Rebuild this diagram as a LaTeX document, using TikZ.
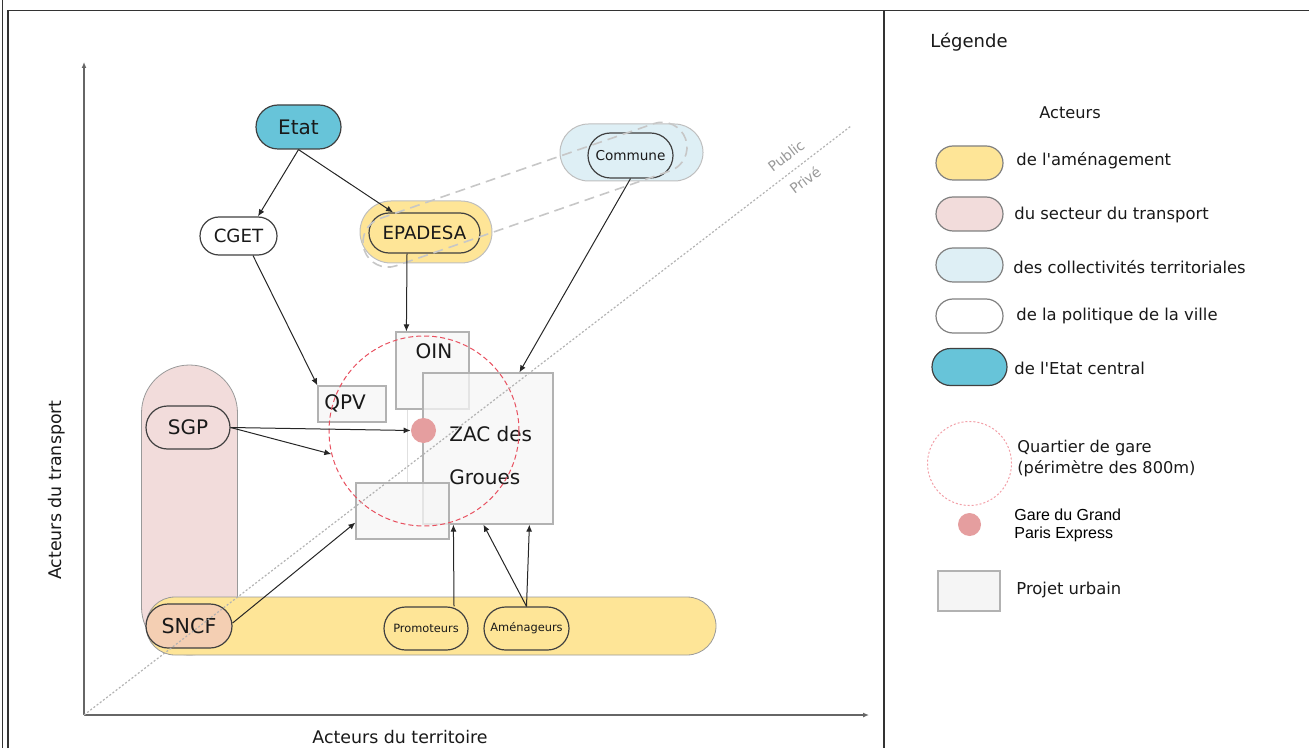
\documentclass[tikz,border=0pt]{standalone}
\usepackage{fontspec}
\setmainfont{DejaVu Sans}
\newfontfamily\arialfont{Liberation Sans}
\usetikzlibrary{shapes.misc,arrows.meta,calc}
\definecolor{etatblue}{HTML}{67C4D9}
\definecolor{amyellow}{HTML}{FEE597}
\definecolor{trpink}{HTML}{F2DCDB}
\definecolor{colblue}{HTML}{DEEFF5}
\definecolor{sncfpeach}{HTML}{F4CFB3}
\definecolor{projgray}{HTML}{F5F5F5}
\definecolor{garered}{HTML}{E59E9F}
\definecolor{circred}{HTML}{E8505F}
\newcommand\straightq{\XeTeXglyph\XeTeXcharglyph"27\relax}
\begin{document}
\begin{tikzpicture}[x=0.5pt, y=-0.5pt,
                pill/.style={rounded rectangle, draw=black!75, line width=0.6pt, inner sep=0pt, text=black!90},
                halo/.style={rounded rectangle, draw=black!25, line width=0.5pt, inner sep=0pt},
                proj/.style={rectangle, draw=black!30, line width=0.6pt, fill=projgray, fill opacity=0.75, inner sep=0pt},
                arr/.style={-{Latex[length=3.5pt,width=3pt]}, draw=black!85, line width=0.5pt},
                lab/.style={anchor=west, inner sep=0pt, text=black!90, font=\fontsize{8.2}{10}\selectfont},
                f10/.style={inner sep=0pt, text=black!90, font=\fontsize{10}{12}\selectfont}]
                \useasboundingbox (0,0) rectangle (1309,748);

                \draw[black!80, line width=0.8pt] (2.5,0) -- (2.5,748);
                \draw[black!80, line width=0.8pt] (8,748) -- (8,10.5) -- (1309,10.5);
                \draw[black!80, line width=0.8pt] (884,10.5) -- (884,748);

                \coordinate (O) at (84,715);
                \draw[-{Latex[length=3pt,width=2.5pt]}, black!60, line width=0.6pt] (O) -- (84,62);
                \draw[-{Latex[length=3pt,width=2.5pt]}, black!60, line width=0.6pt] (O) -- (869,715);
                \node[rotate=90, text=black!90, font=\fontsize{8.7}{10}\selectfont] (YLAB) at (57,490) {Acteurs du transport};
                \node[text=black!90, font=\fontsize{8.7}{10}\selectfont] (XLAB) at (400,737) {Acteurs du territoire};

                \draw[draw=black!40, fill=trpink, rounded corners=24pt] (141.5,365) rectangle (237.5,655);
                \draw[draw=black!40, fill=amyellow, rounded corners=14.5pt] (146,597) rectangle (716,655);

                \node[halo, fill=amyellow, minimum width=66pt, minimum height=31pt] (EPAH) at (426,232) {};
                \node[halo, fill=colblue, minimum width=71.5pt, minimum height=28.5pt] (COMH) at (631.5,152.5) {};

                \node[proj, minimum width=36.5pt, minimum height=38.5pt] (OIN) at (432.5,370.5) {};
                \node[proj, minimum width=65pt, minimum height=75.5pt] (ZAC) at (488,448.5) {};
                \node[proj, minimum width=34pt, minimum height=18pt] (QPV) at (352,404) {};
                \node[proj, minimum width=46.5pt, minimum height=28pt] (PRJ) at (402.5,511) {};
                \draw[black!12, line width=0.5pt] ($(OIN.south west)+(12,0)$) -- ($(PRJ.north west)+(52,0)$);
                \node[f10] (OINT) at (434,351) {OIN};
                \node[f10] (QPVT) at (345,403) {QPV};
                \node[f10, anchor=west, align=left, font=\fontsize{10}{21.5}\selectfont] (ZACT) at (449,455.5) {ZAC des\\Groues};

                \node[circle, draw=circred, dash pattern=on 2.5pt off 1.5pt, line width=0.5pt, minimum size=95pt, inner sep=0pt] (QDG) at (424,431) {};
                \node[circle, fill=garered, minimum size=12.5pt, inner sep=0pt] (GARE) at (423.5,430.5) {};

                \node[pill, fill=etatblue, minimum width=42.5pt, minimum height=22pt, font=\fontsize{10}{12}\selectfont] (ETAT) at (298.5,127) {Etat};
                \node[pill, fill=white, minimum width=38.5pt, minimum height=19pt, font=\fontsize{9.1}{11}\selectfont] (CGET) at (238.5,236) {CGET};
                \node[pill, fill=amyellow, minimum width=55.5pt, minimum height=20pt, font=\fontsize{9.1}{11}\selectfont] (EPA) at (424.5,233) {EPADESA};
                \node[pill, fill=colblue, minimum width=42.5pt, minimum height=22.5pt, font=\fontsize{6.8}{8}\selectfont] (COM) at (630.5,155.5) {Commune};
                \node[pill, fill=trpink, minimum width=42pt, minimum height=21.5pt, font=\fontsize{10}{12}\selectfont] (SGP) at (188,427.5) {SGP};
                \node[pill, fill=sncfpeach, minimum width=43pt, minimum height=22pt, font=\fontsize{10.3}{12}\selectfont] (SNCF) at (189,626) {SNCF};
                \node[pill, fill=amyellow, minimum width=42pt, minimum height=21.5pt, font=\fontsize{5.7}{7}\selectfont] (PROM) at (426,628.5) {Promoteurs};
                \node[pill, fill=amyellow, minimum width=42.5pt, minimum height=21.5pt, font=\fontsize{5.7}{7}\selectfont] (AMEN) at (526.5,628.5) {Aménageurs};

                \node[rounded rectangle, draw=black!22, dash pattern=on 5pt off 3pt, line width=0.8pt,
                    minimum width=170pt, minimum height=25pt, inner sep=0pt, rotate=19.1] (LINK) at (525,194.7) {};

                \draw[black!30, dash pattern=on 1pt off 1pt, line width=0.6pt] (O) -- (851,126);
                \node[rotate=37.5, text=black!40, font=\fontsize{7}{8}\selectfont] (PUB) at (786,156) {Public};
                \node[rotate=37.5, text=black!40, font=\fontsize{7}{8}\selectfont] (PRIV) at (805,180) {Privé};

                \draw[arr] (ETAT.south) -- ($(CGET.north)+(19.5,0)$);
                \draw[arr] (ETAT.south) -- ($(EPA.north)+(-31.5,0)$);
                \draw[arr] ($(CGET.south)+(14.5,0)$) -- (QPV.north west);
                \draw[arr] ($(EPA.south)+(-17.5,0)$) -- ($(OIN.north west)+(11,0)$);
                \draw[arr] (COM.south) -- ($(ZAC.north west)+(97,0)$);
                \draw[arr] (SGP.east) -- (GARE.west);
                \draw[arr] (SGP.east) -- (QDG.194);
                \draw[arr] ($(SNCF.east)+(0,-3)$) -- ($(PRJ.south west)+(0,-17)$);
                \draw[arr] ($(PROM.north)+(28,0)$) -- ($(ZAC.south west)+(31,0)$);
                \draw[arr] (AMEN.north) -- ($(ZAC.south west)+(61,0)$);
                \draw[arr] (AMEN.north) -- ($(ZAC.south west)+(107,0)$);

                \node[text=black!90, font=\fontsize{9}{11}\selectfont] (LEG) at (969,42) {Légende};
                \node[text=black!90, font=\fontsize{8.1}{10}\selectfont] (ACT) at (1070,113) {Acteurs};
                \node[pill, draw=black!50, fill=amyellow, minimum width=33.5pt, minimum height=17pt] (L1) at (969.5,163) {};
                \node[pill, draw=black!50, fill=trpink, minimum width=33.5pt, minimum height=17pt, node distance=25.5pt, below of=L1] (L2) {};
                \node[pill, draw=black!50, fill=colblue, minimum width=33.5pt, minimum height=17pt, node distance=25.5pt, below of=L2] (L3) {};
                \node[pill, draw=black!50, fill=white, minimum width=33.5pt, minimum height=17pt, node distance=25.5pt, below of=L3] (L4) {};
                \node[pill, fill=etatblue, minimum width=37.5pt, minimum height=18.5pt, node distance=25.5pt, below of=L4] (L5) {};
                \node[lab] (L1T) at (1016,161) {de l\straightq aménagement};
                \node[lab] (L2T) at (1014,215) {du secteur du transport};
                \node[lab] (L3T) at (1013,267) {des collectivités territoriales};
                \node[lab] (L4T) at (1016,316) {de la politique de la ville};
                \node[lab] (L5T) at (1014,368) {de l\straightq Etat central};

                \node[circle, draw=circred!55, dash pattern=on 1pt off 1pt, line width=0.5pt, minimum size=42pt, inner sep=0pt] (LQ) at (969.5,463.5) {};
                \node[lab, align=left, font=\fontsize{8.1}{10.5}\selectfont] (LQT) at (1017,458.5) {Quartier de gare\\(périmètre des 800m)};
                \node[circle, fill=garered, minimum size=11.5pt, inner sep=0pt] (LG) at (969.5,524.5) {};
                \node[lab, align=left, text=black, font=\arialfont\fontsize{8}{8.7}\selectfont] (LGT) at (1014,525.5) {Gare du Grand\\Paris Express};
                \node[proj, fill opacity=1, minimum width=31pt, minimum height=20pt] (LP) at (969,591) {};
                \node[lab] (LPT) at (1016,590) {Projet urbain};
            \end{tikzpicture}
\end{document}
